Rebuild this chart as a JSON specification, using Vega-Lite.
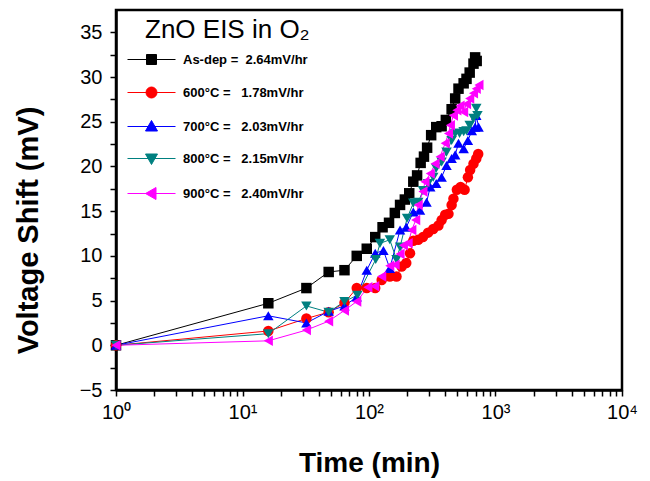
{
  "$schema": "https://vega.github.io/schema/vega-lite/v6.json",
  "width": 506,
  "height": 380,
  "autosize": {"type": "none"},
  "padding": {"left": 116, "top": 10, "right": 28, "bottom": 91},
  "background": "white",
  "config": {
    "view": {"stroke": "black", "strokeWidth": 2.5},
    "font": "Liberation Sans"
  },
  "data": {
    "values": [
      {"s": "As-dep", "t": 1, "v": 0}, {"s": "As-dep", "t": 16, "v": 4.7}, {"s": "As-dep", "t": 32, "v": 6.4}, {"s": "As-dep", "t": 48, "v": 8.2}, {"s": "As-dep", "t": 64, "v": 8.4}, {"s": "As-dep", "t": 80, "v": 10.0}, {"s": "As-dep", "t": 96, "v": 10.8}, {"s": "As-dep", "t": 112, "v": 12.1}, {"s": "As-dep", "t": 128, "v": 13.2}, {"s": "As-dep", "t": 144, "v": 13.7}, {"s": "As-dep", "t": 160, "v": 14.8}, {"s": "As-dep", "t": 176, "v": 15.7}, {"s": "As-dep", "t": 192, "v": 16.3}, {"s": "As-dep", "t": 208, "v": 17.0}, {"s": "As-dep", "t": 224, "v": 18.3}, {"s": "As-dep", "t": 240, "v": 19.0}, {"s": "As-dep", "t": 256, "v": 20.4}, {"s": "As-dep", "t": 272, "v": 21.1}, {"s": "As-dep", "t": 288, "v": 22.1}, {"s": "As-dep", "t": 310, "v": 23.5}, {"s": "As-dep", "t": 340, "v": 24.4}, {"s": "As-dep", "t": 375, "v": 24.5}, {"s": "As-dep", "t": 405, "v": 25.2}, {"s": "As-dep", "t": 450, "v": 26.4}, {"s": "As-dep", "t": 480, "v": 27.6}, {"s": "As-dep", "t": 510, "v": 28.7}, {"s": "As-dep", "t": 560, "v": 29.3}, {"s": "As-dep", "t": 590, "v": 29.8}, {"s": "As-dep", "t": 625, "v": 30.5}, {"s": "As-dep", "t": 670, "v": 31.5}, {"s": "As-dep", "t": 690, "v": 32.2}, {"s": "As-dep", "t": 710, "v": 31.8},
      {"s": "600", "t": 1, "v": 0}, {"s": "600", "t": 16, "v": 1.6}, {"s": "600", "t": 32, "v": 3.0}, {"s": "600", "t": 48, "v": 3.7}, {"s": "600", "t": 64, "v": 4.75}, {"s": "600", "t": 80, "v": 6.4}, {"s": "600", "t": 96, "v": 6.4}, {"s": "600", "t": 112, "v": 6.4}, {"s": "600", "t": 126, "v": 7.3}, {"s": "600", "t": 146, "v": 7.7}, {"s": "600", "t": 165, "v": 7.7}, {"s": "600", "t": 181, "v": 8.8}, {"s": "600", "t": 197, "v": 9.2}, {"s": "600", "t": 211, "v": 10.3}, {"s": "600", "t": 224, "v": 11.7}, {"s": "600", "t": 245, "v": 11.8}, {"s": "600", "t": 267, "v": 12.1}, {"s": "600", "t": 293, "v": 12.6}, {"s": "600", "t": 322, "v": 13.0}, {"s": "600", "t": 354, "v": 13.4}, {"s": "600", "t": 375, "v": 14.0}, {"s": "600", "t": 400, "v": 14.6}, {"s": "600", "t": 425, "v": 14.7}, {"s": "600", "t": 450, "v": 15.7}, {"s": "600", "t": 465, "v": 16.4}, {"s": "600", "t": 495, "v": 17.4}, {"s": "600", "t": 530, "v": 17.7}, {"s": "600", "t": 570, "v": 17.4}, {"s": "600", "t": 605, "v": 18.8}, {"s": "600", "t": 630, "v": 19.6}, {"s": "600", "t": 670, "v": 20.3}, {"s": "600", "t": 705, "v": 20.9}, {"s": "600", "t": 730, "v": 21.4},
      {"s": "700", "t": 1, "v": 0}, {"s": "700", "t": 16, "v": 3.3}, {"s": "700", "t": 32, "v": 2.5}, {"s": "700", "t": 48, "v": 3.8}, {"s": "700", "t": 64, "v": 4.4}, {"s": "700", "t": 80, "v": 5.4}, {"s": "700", "t": 96, "v": 8.4}, {"s": "700", "t": 112, "v": 10.3}, {"s": "700", "t": 130, "v": 10.6}, {"s": "700", "t": 146, "v": 8.6}, {"s": "700", "t": 176, "v": 12.9}, {"s": "700", "t": 197, "v": 13.2}, {"s": "700", "t": 224, "v": 14.9}, {"s": "700", "t": 253, "v": 15.1}, {"s": "700", "t": 285, "v": 16.0}, {"s": "700", "t": 305, "v": 17.7}, {"s": "700", "t": 340, "v": 18.1}, {"s": "700", "t": 375, "v": 18.8}, {"s": "700", "t": 410, "v": 20.1}, {"s": "700", "t": 450, "v": 20.9}, {"s": "700", "t": 480, "v": 21.3}, {"s": "700", "t": 510, "v": 22.6}, {"s": "700", "t": 560, "v": 22.0}, {"s": "700", "t": 605, "v": 22.9}, {"s": "700", "t": 650, "v": 24.0}, {"s": "700", "t": 690, "v": 24.4}, {"s": "700", "t": 705, "v": 25.7}, {"s": "700", "t": 735, "v": 24.4},
      {"s": "800", "t": 1, "v": 0}, {"s": "800", "t": 16, "v": 1.3}, {"s": "800", "t": 32, "v": 4.4}, {"s": "800", "t": 48, "v": 3.7}, {"s": "800", "t": 64, "v": 4.9}, {"s": "800", "t": 81, "v": 5.6}, {"s": "800", "t": 113, "v": 9.6}, {"s": "800", "t": 122, "v": 11.4}, {"s": "800", "t": 146, "v": 11.8}, {"s": "800", "t": 165, "v": 9.6}, {"s": "800", "t": 176, "v": 11.0}, {"s": "800", "t": 200, "v": 14.2}, {"s": "800", "t": 224, "v": 15.9}, {"s": "800", "t": 245, "v": 16.0}, {"s": "800", "t": 267, "v": 17.3}, {"s": "800", "t": 293, "v": 18.1}, {"s": "800", "t": 322, "v": 18.8}, {"s": "800", "t": 340, "v": 19.8}, {"s": "800", "t": 375, "v": 20.5}, {"s": "800", "t": 410, "v": 21.6}, {"s": "800", "t": 450, "v": 22.9}, {"s": "800", "t": 480, "v": 23.7}, {"s": "800", "t": 520, "v": 23.7}, {"s": "800", "t": 560, "v": 23.9}, {"s": "800", "t": 590, "v": 24.0}, {"s": "800", "t": 625, "v": 24.6}, {"s": "800", "t": 670, "v": 25.4}, {"s": "800", "t": 705, "v": 26.5}, {"s": "800", "t": 720, "v": 25.7},
      {"s": "900", "t": 1, "v": 0}, {"s": "900", "t": 16, "v": 0.5}, {"s": "900", "t": 32, "v": 1.7}, {"s": "900", "t": 48, "v": 2.7}, {"s": "900", "t": 64, "v": 3.9}, {"s": "900", "t": 80, "v": 4.9}, {"s": "900", "t": 98, "v": 6.5}, {"s": "900", "t": 111, "v": 6.6}, {"s": "900", "t": 126, "v": 7.7}, {"s": "900", "t": 146, "v": 8.9}, {"s": "900", "t": 161, "v": 9.0}, {"s": "900", "t": 176, "v": 10.2}, {"s": "900", "t": 187, "v": 11.2}, {"s": "900", "t": 204, "v": 11.4}, {"s": "900", "t": 218, "v": 12.9}, {"s": "900", "t": 234, "v": 14.0}, {"s": "900", "t": 245, "v": 15.7}, {"s": "900", "t": 267, "v": 17.2}, {"s": "900", "t": 277, "v": 18.3}, {"s": "900", "t": 305, "v": 19.2}, {"s": "900", "t": 333, "v": 20.3}, {"s": "900", "t": 365, "v": 21.1}, {"s": "900", "t": 400, "v": 22.6}, {"s": "900", "t": 425, "v": 23.7}, {"s": "900", "t": 440, "v": 24.6}, {"s": "900", "t": 465, "v": 25.7}, {"s": "900", "t": 495, "v": 26.3}, {"s": "900", "t": 525, "v": 26.8}, {"s": "900", "t": 560, "v": 26.1}, {"s": "900", "t": 590, "v": 27.0}, {"s": "900", "t": 625, "v": 27.6}, {"s": "900", "t": 670, "v": 28.2}, {"s": "900", "t": 705, "v": 28.7}, {"s": "900", "t": 740, "v": 29.1}
    ]
  },
  "encoding": {
    "x": {
      "field": "t", "type": "quantitative",
      "scale": {"type": "log", "domain": [1, 10000], "nice": false},
      "title": "Time (min)",
      "axis": {
        "values": [1,2,3,4,5,6,7,8,9,10,20,30,40,50,60,70,80,90,100,200,300,400,500,600,700,800,900,1000,2000,3000,4000,5000,6000,7000,8000,9000,10000],
        "labelExpr": "datum.value == 1 ? '10⁰' : datum.value == 10 ? '10¹' : datum.value == 100 ? '10²' : datum.value == 1000 ? '10³' : datum.value == 10000 ? '10⁴' : ''",
        "grid": false, "domainColor": "black", "domainWidth": 2.5,
        "tickColor": "black", "tickWidth": 1.5, "tickSize": 6,
        "labelFont": "Liberation Sans", "labelFontSize": 20, "labelColor": "black", "labelPadding": 6, "labelFlush": false, "labelOverlap": false,
        "titleFont": "Liberation Sans", "titleFontSize": 28, "titleFontWeight": "bold", "titleColor": "black", "titlePadding": 27
      }
    },
    "y": {
      "field": "v", "type": "quantitative",
      "scale": {"domain": [-5, 37.5], "nice": false, "zero": false},
      "title": "Voltage Shift (mV)",
      "axis": {
        "values": [-5,-2.5,0,2.5,5,7.5,10,12.5,15,17.5,20,22.5,25,27.5,30,32.5,35],
        "labelExpr": "datum.value % 5 == 0 ? format(datum.value, 'd') : ''",
        "grid": false, "domainColor": "black", "domainWidth": 2.5,
        "tickColor": "black", "tickWidth": 1.5, "tickSize": 6,
        "labelFont": "Liberation Sans", "labelFontSize": 20, "labelColor": "black", "labelPadding": 8, "labelFlush": false, "labelOverlap": false,
        "titleFont": "Liberation Sans", "titleFontSize": 29, "titleFontWeight": "bold", "titleColor": "black", "titlePadding": 36, "titleY": 220
      }
    },
    "color": {
      "field": "s", "type": "nominal",
      "scale": {"domain": ["As-dep", "600", "700", "800", "900"], "range": ["#000000", "#ff0000", "#0000ff", "#008080", "#ff00ff"]},
      "legend": {
        "orient": "none", "legendX": 29, "legendY": 7,
        "title": "ZnO EIS in O₂", "titleFont": "Liberation Sans", "titleFontSize": 26, "titleFontWeight": "normal", "titleColor": "black", "titlePadding": 10,
        "labelFont": "Liberation Sans", "labelFontSize": 13, "labelFontWeight": "bold", "labelColor": "black", "labelLimit": 300,
        "labelOffset": 25, "symbolOffset": 0, "symbolSize": 100, "rowPadding": 18, "padding": 0,
        "labelExpr": "datum.value == 'As-dep' ? 'As-dep =\u00a0\u00a02.64mV/hr' : datum.value == '600' ? '600°C =\u00a0\u00a0\u00a01.78mV/hr' : datum.value == '700' ? '700°C =\u00a0\u00a0\u00a02.03mV/hr' : datum.value == '800' ? '800°C =\u00a0\u00a0\u00a02.15mV/hr' : '900°C =\u00a0\u00a0\u00a02.40mV/hr'",
        "encode": {
          "symbols": {
            "update": {
              "shape": {"signal": "datum.value == 'As-dep' ? 'M-4.8,0H4.8M-1,-1H1V1H-1Z' : datum.value == '600' ? 'M-4.8,0H4.8M-1.1,0A1.1,1.1,0,1,0,1.1,0A1.1,1.1,0,1,0,-1.1,0Z' : datum.value == '700' ? 'M-4.8,0H4.8M-1.2,0.9L0,-1.2L1.2,0.9Z' : datum.value == '800' ? 'M-4.8,0H4.8M-1.2,-0.9L0,1.2L1.2,-0.9Z' : 'M-4.8,0H4.8M0.9,-1.2L-1.2,0L0.9,1.2Z'"},
              "fill": {"scale": "color", "field": "value"},
              "stroke": {"scale": "color", "field": "value"},
              "strokeWidth": {"value": 1},
              "opacity": {"value": 1}
            }
          }
        }
      }
    }
  },
  "layer": [
    {"mark": {"type": "line", "strokeWidth": 1}},
    {"transform": [{"filter": "datum.s == 'As-dep'"}], "mark": {"type": "point", "filled": true, "size": 110, "opacity": 1, "shape": "square"}},
    {"transform": [{"filter": "datum.s == '600'"}], "mark": {"type": "point", "filled": true, "size": 110, "opacity": 1, "shape": "circle"}},
    {"transform": [{"filter": "datum.s == '700'"}], "mark": {"type": "point", "filled": true, "size": 110, "opacity": 1, "shape": "triangle-up"}},
    {"transform": [{"filter": "datum.s == '800'"}], "mark": {"type": "point", "filled": true, "size": 110, "opacity": 1, "shape": "triangle-down"}},
    {"transform": [{"filter": "datum.s == '900'"}], "mark": {"type": "point", "filled": true, "size": 110, "opacity": 1, "shape": "triangle-left"}}
  ]
}
